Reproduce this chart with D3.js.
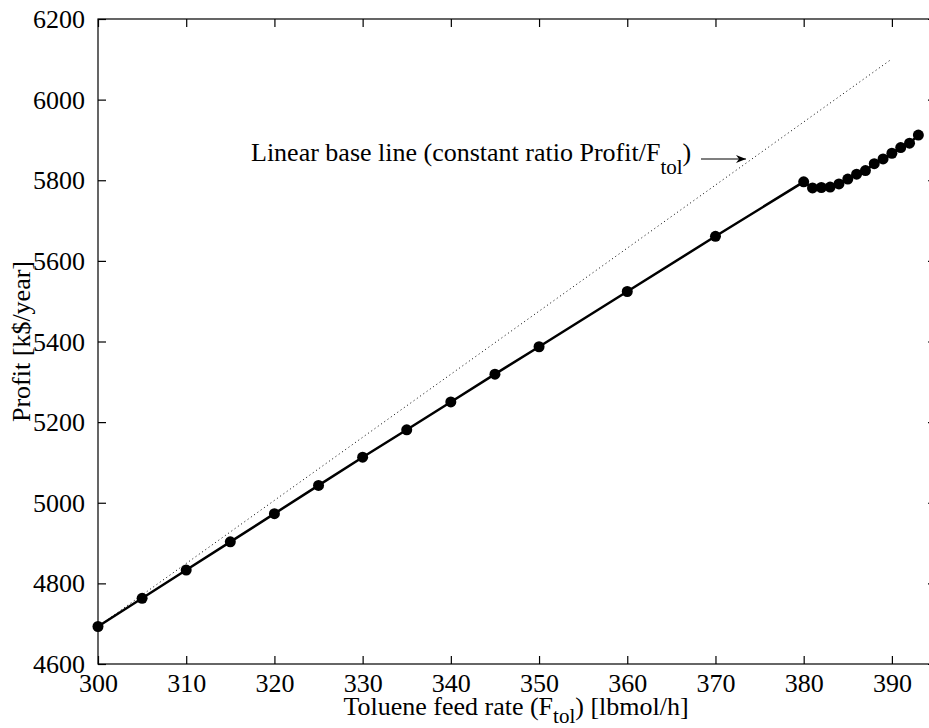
<!DOCTYPE html>
<html><head><meta charset="utf-8">
<script src="https://cdn.jsdelivr.net/npm/d3@7"></script>
<style>body{margin:0;background:#fff}svg{display:block}svg text{font-family:"Liberation Serif","Times New Roman",Times,"DejaVu Serif",serif !important;fill:#000}</style>
</head><body>
<script>
const feedRate = [300,305,310,315,320,325,330,335,340,345,350,360,370,380,381,382,383,384,385,386,387,388,389,390,391,392,393];
const profit   = [4693,4763,4833,4903,4973,5043,5113,5181,5250,5319,5387,5524,5661,5796,5781,5782,5783,5791,5803,5815,5824,5841,5853,5867,5881,5892,5912];
const baseX = [300, 390];
const baseY = [4693, 6101];
const xTicks = [300,310,320,330,340,350,360,370,380,390];
const yTicks = [4600,4800,5000,5200,5400,5600,5800,6000,6200];

const W = 929, H = 728;
const m = {left: 98, top: 19, right: 936, bottom: 664};
const svg = d3.select("body").append("svg").attr("width", W).attr("height", H);
const x = d3.scaleLinear().domain([300, 395]).range([m.left, m.right]);
const y = d3.scaleLinear().domain([4600, 6200]).range([m.bottom, m.top]);
const fs = 26, sfs = 21;
const FF = "'Liberation Serif', 'Times New Roman', Times, 'DejaVu Serif', serif";

svg.append("rect").attr("x", m.left).attr("y", m.top).attr("width", m.right - m.left).attr("height", m.bottom - m.top)
  .attr("fill", "none").attr("stroke", "#000").attr("stroke-width", 1.2);

const tl = 8;
const gx = svg.append("g").attr("transform", `translate(0,${m.bottom})`)
  .call(d3.axisBottom(x).tickValues(xTicks).tickSizeInner(-tl).tickSizeOuter(0).tickPadding(tl + 2).tickFormat(d3.format("d")));
const gxt = svg.append("g").attr("transform", `translate(0,${m.top})`)
  .call(d3.axisTop(x).tickValues(xTicks).tickSizeInner(-tl).tickSizeOuter(0).tickFormat(""));
const gy = svg.append("g").attr("transform", `translate(${m.left},0)`)
  .call(d3.axisLeft(y).tickValues(yTicks).tickSizeInner(-tl).tickSizeOuter(0).tickPadding(tl + 5).tickFormat(d3.format("d")));
const gyr = svg.append("g").attr("transform", `translate(${m.right},0)`)
  .call(d3.axisRight(y).tickValues(yTicks).tickSizeInner(-tl).tickSizeOuter(0).tickFormat(""));
[gx, gxt, gy, gyr].forEach(g => {
  g.attr("font-family", FF).attr("font-size", fs);
  g.select(".domain").remove();
  g.selectAll("line").attr("stroke", "#000").attr("stroke-width", 1.2);
  g.selectAll("text").style("font-family", FF).attr("font-size", fs).attr("fill", "#000");
});
gx.selectAll("text").attr("dy", "0.68em");
gy.selectAll("text").attr("dy", "0.33em");

svg.append("line").attr("x1", x(baseX[0])).attr("y1", y(baseY[0])).attr("x2", x(baseX[1])).attr("y2", y(baseY[1]))
  .attr("stroke", "#000").attr("stroke-width", 1).attr("stroke-dasharray", "1,3");

const line = d3.line().x((d, i) => x(feedRate[i])).y(d => y(d));
svg.append("path").attr("d", line(profit)).attr("fill", "none").attr("stroke", "#000").attr("stroke-width", 2.5);
svg.selectAll("circle.pt").data(profit).enter().append("circle").attr("class", "pt")
  .attr("cx", (d, i) => x(feedRate[i])).attr("cy", d => y(d)).attr("r", 5.5).attr("fill", "#000");

const ann = svg.append("text").attr("x", 251).attr("y", 161).attr("font-size", fs).style("font-family", FF);
ann.append("tspan").text("Linear base line (constant ratio Profit/F");
ann.append("tspan").attr("font-size", sfs).attr("dy", 13).text("tol");
ann.append("tspan").attr("dy", -13).text(")");
svg.append("defs").append("marker").attr("id", "ah").attr("viewBox", "0 0 10 10").attr("refX", 10).attr("refY", 5)
  .attr("markerWidth", 12).attr("markerHeight", 10).attr("markerUnits", "userSpaceOnUse").attr("orient", "auto")
  .append("path").attr("d", "M0,1 L10,5 L0,9 L3,5 Z").attr("fill", "#000");
svg.append("line").attr("x1", 701).attr("y1", 159).attr("x2", 746).attr("y2", 159)
  .attr("stroke", "#000").attr("stroke-width", 1.2).attr("marker-end", "url(#ah)");

const xt = svg.append("text").attr("x", (m.left + m.right) / 2 - 1).attr("y", 715).attr("text-anchor", "middle").attr("font-size", fs).style("font-family", FF);
xt.append("tspan").text("Toluene feed rate (F");
xt.append("tspan").attr("font-size", sfs).attr("dy", 8).text("tol");
xt.append("tspan").attr("dy", -8).text(") [lbmol/h]");

svg.append("text").attr("transform", `translate(30,${(m.top + m.bottom) / 2}) rotate(-90)`).attr("text-anchor", "middle")
  .attr("font-size", fs).style("font-family", FF).text("Profit [k$/year]");
</script>
</body></html>
